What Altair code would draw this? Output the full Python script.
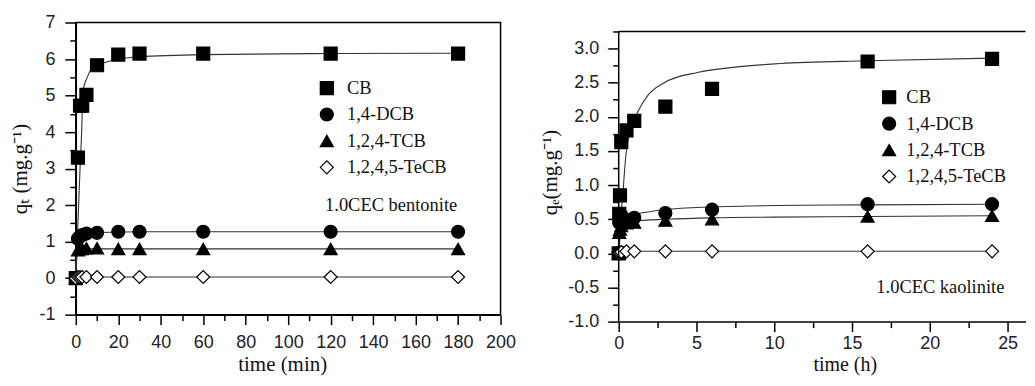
import altair as alt
import pandas as pd

series = ["CB", "1,4-DCB", "1,2,4-TCB", "1,2,4,5-TeCB"]
shapes = ["square", "circle", "triangle-up", "diamond"]
fills = ["black", "black", "black", "white"]
strokes = ["black", "black", "black", "black"]

# ---- left panel: 1.0CEC bentonite, time in minutes ----
bent_t = [0, 1, 2, 3, 5, 10, 20, 30, 60, 120, 180]
bent_cb = [0, 3.3, 4.72, 4.72, 5.02, 5.83, 6.12, 6.15, 6.15, 6.15, 6.15]
bent_dcb = [0, 1.08, 1.14, 1.18, 1.22, 1.24, 1.27, 1.27, 1.27, 1.27, 1.27]
bent_tcb = [0, 0.76, 0.8, 0.8, 0.82, 0.82, 0.8, 0.8, 0.8, 0.8, 0.8]
bent_tecb = [0, 0.03, 0.03, 0.03, 0.03, 0.03, 0.03, 0.03, 0.03, 0.03, 0.03]

# fitted curves
bent_fit_t_cb = [0, 1, 2, 2.8, 3.3, 5, 7.8, 10, 13.3, 20, 30, 60, 120, 180]
bent_fit_cb = [0, 1.5, 3.0, 4.1, 5.1, 5.45, 5.76, 5.84, 5.9, 6.0, 6.06, 6.12, 6.15, 6.16]
bent_fit_t = [0, 0.5, 1, 2, 3, 5, 10, 20, 30, 60, 120, 180]
bent_fit_dcb = [0, 0.9, 1.1, 1.17, 1.2, 1.23, 1.25, 1.26, 1.27, 1.27, 1.27, 1.27]
bent_fit_tcb = [0, 0.6, 0.76, 0.79, 0.8, 0.8, 0.8, 0.8, 0.8, 0.8, 0.8, 0.8]
bent_fit_tecb = [0, 0.02, 0.03, 0.03, 0.03, 0.03, 0.03, 0.03, 0.03, 0.03, 0.03, 0.03]

# ---- right panel: 1.0CEC kaolinite, time in hours ----
kao_t = [0, 0.033, 0.083, 0.167, 0.5, 1, 3, 6, 16, 24]
kao_cb = [0, 0.58, 0.85, 1.63, 1.80, 1.94, 2.15, 2.41, 2.81, 2.85]
kao_dcb = [0, 0.45, 0.5, 0.56, 0.49, 0.52, 0.59, 0.64, 0.72, 0.72]
kao_tcb = [0, 0.3, 0.35, 0.4, 0.44, 0.45, 0.48, 0.5, 0.54, 0.55]
kao_tecb = [0, 0.0, 0.01, 0.02, 0.03, 0.03, 0.03, 0.03, 0.03, 0.03]

kao_fit_t_cb = [0, 0.1, 0.26, 0.48, 0.8, 1.22, 1.86, 2.93, 5.07, 7.2, 10.4, 16, 24]
kao_fit_cb = [0, 0.4, 0.86, 1.48, 1.83, 2.07, 2.31, 2.5, 2.65, 2.72, 2.78, 2.82, 2.86]
kao_fit_t = [0, 0.1, 0.25, 0.5, 1, 2, 3, 6, 10, 16, 24]
kao_fit_dcb = [0, 0.3, 0.42, 0.5, 0.56, 0.61, 0.64, 0.68, 0.70, 0.71, 0.72]
kao_fit_tcb = [0, 0.25, 0.36, 0.42, 0.47, 0.49, 0.5, 0.52, 0.53, 0.54, 0.55]
kao_fit_tecb = [0, 0.01, 0.02, 0.03, 0.03, 0.03, 0.03, 0.03, 0.03, 0.03, 0.03]

# axis tick values and ranges
bent_x_major = [0, 20, 40, 60, 80, 100, 120, 140, 160, 180, 200]
bent_x_minor = [10, 30, 50, 70, 90, 110, 130, 150, 170, 190]
bent_y_major = [-1, 0, 1, 2, 3, 4, 5, 6, 7]
bent_y_minor = [-0.5, 0.5, 1.5, 2.5, 3.5, 4.5, 5.5, 6.5]
kao_x_major = [0, 5, 10, 15, 20, 25]
kao_x_minor = [2.5, 7.5, 12.5, 17.5, 22.5]
kao_y_major = [-1.0, -0.5, 0.0, 0.5, 1.0, 1.5, 2.0, 2.5, 3.0]
kao_y_minor = [-0.75, -0.25, 0.25, 0.75, 1.25, 1.75, 2.25, 2.75, 3.25]
kao_x_frame = [0, 26.15]     # left edge and visible right edge of the kaolinite view
kao_y_frame = [-1.0, 3.25]   # bottom and top of the kaolinite frame

SANS = "Liberation Sans"
SERIF = "Liberation Serif"
LABEL_EXPR = "replace(datum.label, '\u2212', '-')"


def long_df(ts, cols):
    rows = []
    for name, vals in zip(series, cols):
        tt = ts[name] if isinstance(ts, dict) else ts
        for t, q in zip(tt, vals):
            rows.append({"t": t, "q": q, "series": name})
    return pd.DataFrame(rows)


bent_pts = long_df(bent_t, [bent_cb, bent_dcb, bent_tcb, bent_tecb])
bent_fit = long_df({"CB": bent_fit_t_cb, "1,4-DCB": bent_fit_t, "1,2,4-TCB": bent_fit_t,
                    "1,2,4,5-TeCB": bent_fit_t},
                   [bent_fit_cb, bent_fit_dcb, bent_fit_tcb, bent_fit_tecb])
kao_pts = long_df(kao_t, [kao_cb, kao_dcb, kao_tcb, kao_tecb])
kao_fit = long_df({"CB": kao_fit_t_cb, "1,4-DCB": kao_fit_t, "1,2,4-TCB": kao_fit_t,
                   "1,2,4,5-TeCB": kao_fit_t},
                  [kao_fit_cb, kao_fit_dcb, kao_fit_tcb, kao_fit_tecb])


def major_axis(orient, values, title, fmt, tick, pad, tpad, tsize=21, domain=True, **kw):
    return alt.Axis(orient=orient, values=values, title=title, format=fmt,
                    labelExpr=LABEL_EXPR, tickSize=tick, tickWidth=1.5,
                    tickColor="black", domain=domain, domainColor="black", domainWidth=1.5,
                    labelFont=SANS, labelFontSize=18, labelColor="#222",
                    labelPadding=pad, labelOverlap=False, labelFlush=False,
                    titleFont=SERIF, titleFontSize=tsize, titleFontWeight="normal",
                    titleColor="#111", titlePadding=tpad, grid=False, **kw)


def minor_axis(orient, values, tick):
    return alt.Axis(orient=orient, values=values, title=None, labels=False,
                    domain=False, tickSize=tick, tickWidth=1.5, tickColor="black",
                    grid=False)


def panel(pts, fit, xdom, ydom, xmaj, xmin, ymaj, ymin, xfmt, yfmt, xtitle, ytitle,
          w, h, xaxis_kw, yt_pad, yl_pad, leg_xy, lab_off, note, note_xy, frame):
    xs = alt.Scale(domain=xdom, nice=False, zero=False)
    ys = alt.Scale(domain=ydom, nice=False, zero=False)
    lines = alt.Chart(fit).mark_line(interpolate="monotone", color="#333",
                                     strokeWidth=1.1).encode(
        x=alt.X("t:Q", scale=xs, axis=minor_axis("bottom", xmin, 6)),
        y=alt.Y("q:Q", scale=ys, axis=minor_axis("left", ymin, 6)),
        detail="series:N",
    )
    leg = alt.Legend(orient="none", legendX=leg_xy[0], legendY=leg_xy[1], title=None,
                     labelFont=SERIF, labelFontSize=18.5, labelColor="#111",
                     symbolSize=170, symbolStrokeWidth=1.2,
                     labelOffset=lab_off, rowPadding=7.5, padding=0, offset=0)
    pts_layer = alt.Chart(pts).mark_point(filled=True, size=170,
                                          strokeWidth=1.2, opacity=1).encode(
        x=alt.X("t:Q", scale=xs, axis=major_axis("bottom", xmaj, xtitle, xfmt, 10, **xaxis_kw)),
        y=alt.Y("q:Q", scale=ys, axis=major_axis("left", ymaj, ytitle, yfmt, 11, yl_pad, yt_pad,
                                                 domain=frame)),
        shape=alt.Shape("series:N", scale=alt.Scale(domain=series, range=shapes), legend=leg),
        fill=alt.Fill("series:N", scale=alt.Scale(domain=series, range=fills), legend=leg),
        stroke=alt.Stroke("series:N", scale=alt.Scale(domain=series, range=strokes), legend=leg),
    )
    txt = alt.Chart(pd.DataFrame({"note": [note]})).mark_text(
        align="left", baseline="middle", font=SERIF, fontSize=18.5, color="#111").encode(
        text="note:N", x=alt.value(note_xy[0]), y=alt.value(note_xy[1]))
    layers = [lines, pts_layer, txt]
    if not frame:
        fr = pd.DataFrame({"x0": [kao_x_frame[0]], "x1": [kao_x_frame[1]],
                           "lo": [kao_y_frame[0]], "hi": [kao_y_frame[1]]})
        top = alt.Chart(fr).mark_rule(color="black", strokeWidth=1.5).encode(
            x=alt.X("x0:Q", scale=xs, axis=None), x2="x1:Q",
            y=alt.Y("hi:Q", scale=ys, axis=None))
        side = alt.Chart(fr).mark_rule(color="black", strokeWidth=1.5).encode(
            x=alt.X("x0:Q", scale=xs, axis=None),
            y=alt.Y("lo:Q", scale=ys, axis=None), y2="hi:Q")
        layers += [top, side]
    ch = alt.layer(*layers).resolve_axis(x="independent", y="independent").properties(
        width=w, height=h,
        view=alt.ViewBackground(stroke="black" if frame else None, strokeWidth=1.5))
    return ch


left = panel(bent_pts, bent_fit, [0, 200], [-1, 7], bent_x_major, bent_x_minor,
             bent_y_major, bent_y_minor, "d", "d", "time (min)", "q\u209c (mg.g\u207b\u00b9)",
             426, 293, dict(pad=8.5, tpad=2.5, tsize=21, titleX=207, titleAnchor="start",
                            titleAlign="center"),
             8, 10, (242.5, 56.5), 11,
             "1.0CEC bentonite", (250, 183), True)

# kaolinite view extends 9 px above its frame so that its frame sits lower
right = panel(kao_pts, kao_fit, kao_x_frame, [-1, 3.3814], kao_x_major, kao_x_minor,
              kao_y_major, kao_y_minor, "d", ".1f", "time (h)", "q\u2091(mg.g\u207b\u00b9)",
              408, 300, dict(pad=2.5, tpad=2.5, tsize=20, titleX=226.7, titleAnchor="start",
                             titleAlign="center"),
              7, 9, (262, 65.7), 8,
              "1.0CEC kaolinite", (258.4, 265.7), False)

chart = alt.hconcat(left, right, spacing=22.5).resolve_scale(
    shape="independent", fill="independent", stroke="independent").resolve_legend(
    shape="independent", fill="independent", stroke="independent").properties(
    padding={"left": 1, "top": 4, "right": 0, "bottom": 0}
).configure_view(stroke=None)

chart.save("out.html", embed_options={"renderer": "svg", "actions": False})
